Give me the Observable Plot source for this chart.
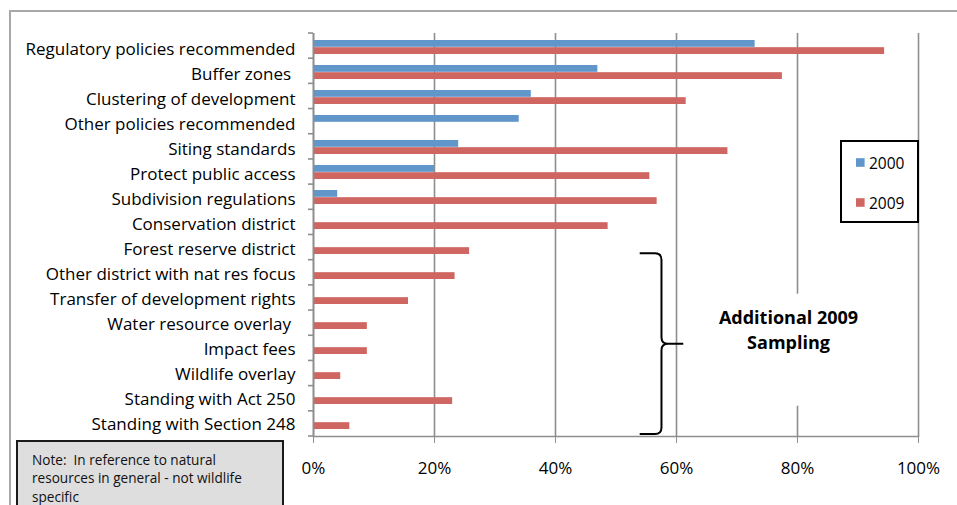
<!DOCTYPE html>
<html>
<head>
<meta charset="utf-8">
<script src="https://cdn.jsdelivr.net/npm/d3@7"></script>
<script src="https://cdn.jsdelivr.net/npm/@observablehq/plot@0.6"></script>
<style>
  body { margin: 0; background: #fff; }
  #wrap { position: relative; width: 957px; height: 505px; overflow: hidden; font-family: "Open Sans", sans-serif; background: #fff; }
  #frame { position: absolute; left: 9px; top: 10px; width: 1000px; height: 600px; border-left: 2px solid #a8a8a8; border-top: 2px solid #a8a8a8; }
  #chart { position: absolute; left: 0; top: 0; }
  #note { position: absolute; left: 16px; top: 440px; width: 268px; height: 90px; background: #dedede; border: 2px solid #1a1a1a; box-sizing: border-box; font-size: 13.6px; line-height: 18.5px; padding: 8.5px 0 0 14px; color: #111; white-space: pre; }
</style>
</head>
<body>
<div id="wrap">
  <div id="frame"></div>
  <div id="chart"></div>
  <div id="note">Note:  In reference to natural
resources in general - not wildlife
specific</div>
</div>
<script>
const categories = [
  "Regulatory policies recommended",
  "Buffer zones ",
  "Clustering of development",
  "Other policies recommended",
  "Siting standards",
  "Protect public access",
  "Subdivision regulations",
  "Conservation district",
  "Forest reserve district",
  "Other district with nat res focus",
  "Transfer of development rights",
  "Water resource overlay ",
  "Impact fees",
  "Wildlife overlay",
  "Standing with Act 250",
  "Standing with Section 248"
];
const series = ["2000", "2009"];
const values2000 = [73, 47, 36, 34, 24, 20, 4, null, null, null, null, null, null, null, null, null];
const values2009 = [94.4, 77.5, 61.6, null, 68.5, 55.6, 56.8, 48.7, 25.8, 23.4, 15.7, 8.9, 8.9, 4.5, 23.0, 6.0];
const xTicks = [0, 20, 40, 60, 80, 100];
const colors = { "2000": "#6096ca", "2009": "#cf6661" };
const bracketFrom = "Forest reserve district";
const bracketTo = "Standing with Section 248";
const annotation = ["Additional 2009", "Sampling"];

const d2000 = categories.map((c, i) => ({ category: c, value: values2000[i] })).filter(d => d.value != null);
const d2009 = categories.map((c, i) => ({ category: c, value: values2009[i] })).filter(d => d.value != null);

const W = 957, H = 505, mL = 313, mR = 39, mT = 33, mB = 69;
const padInner = 0.43;
const step = (H - mT - mB) / categories.length;
const bw = step * (1 - padInner);
const gridColor = "#8e8e8e";
const FONT = "'Open Sans', sans-serif";

const plot = Plot.plot({
  width: W, height: H,
  marginLeft: mL, marginRight: mR, marginTop: mT, marginBottom: mB,
  style: { background: "transparent", fontFamily: FONT, fontSize: "17px", color: "#000" },
  x: { domain: [0, 100], label: null },
  y: { domain: categories, paddingInner: padInner, paddingOuter: padInner / 2, label: null },
  marks: [
    Plot.gridX(xTicks, { stroke: gridColor, strokeOpacity: 1, strokeWidth: 1.6 }),
    Plot.barX(d2000, { x: "value", y: "category", fill: colors["2000"], insetBottom: bw / 2 }),
    Plot.barX(d2009, { x: "value", y: "category", fill: colors["2009"], insetTop: bw / 2 }),
    Plot.ruleX([0], { stroke: gridColor, strokeWidth: 1.6 }),
    Plot.frame({ anchor: "bottom", stroke: gridColor, strokeWidth: 1.6 }),
    Plot.axisX(xTicks, { tickFormat: d => d + "%", tickSize: 7, tickPadding: 18, stroke: gridColor, fill: "#000", fontSize: 17, label: null }),
    Plot.axisY({ tickSize: 0, tickPadding: 18, fill: "#000", fontSize: 17, dy: 1.8, label: null })
  ]
});
document.getElementById("chart").appendChild(plot);

const svg = d3.select(plot);
svg.selectAll("text").style("white-space", "pre");
const xs = plot.scale("x"), ys = plot.scale("y");
const X = v => xs.apply(v);
const Y = c => ys.apply(c);
const y0 = ys.range[0], y1 = ys.range[1];

// category boundary ticks on the left axis
const g = svg.append("g");
for (let i = 0; i <= categories.length; i++) {
  const yy = y0 + i * step;
  g.append("line").attr("x1", X(0) - 5).attr("x2", X(0)).attr("y1", yy).attr("y2", yy)
    .attr("stroke", gridColor).attr("stroke-width", 1.6);
}

// bracket
const yt = Y(bracketFrom) + bw - 1;
const yb = y1 - 2;
const ym = (yt + yb) / 2;
const xl = X(54), xv = X(57.6), xt = X(61.2);
const r = 6.5;
const p = d3.path();
p.moveTo(xl, yt); p.lineTo(xv - r, yt); p.quadraticCurveTo(xv, yt, xv, yt + r);
p.lineTo(xv, ym - r); p.quadraticCurveTo(xv, ym, xv + r, ym); p.lineTo(xt, ym);
p.moveTo(xv + r, ym); p.quadraticCurveTo(xv, ym, xv, ym + r);
p.lineTo(xv, yb - r); p.quadraticCurveTo(xv, yb, xv - r, yb); p.lineTo(xl, yb);
g.append("path").attr("d", p.toString()).attr("fill", "none").attr("stroke", "#000").attr("stroke-width", 2);

// annotation box
g.append("rect").attr("x", X(65.8)).attr("y", ym - 50).attr("width", X(91.4) - X(65.8)).attr("height", 112).attr("fill", "#fff");
annotation.forEach((t, i) => {
  g.append("text").attr("x", X(78.6)).attr("y", ym - 27 + i * 25.5)
    .attr("text-anchor", "middle").attr("dominant-baseline", "central")
    .attr("font-weight", "bold").attr("font-size", 18).attr("fill", "#000").text(t);
});

// legend
const lg = svg.append("g");
const lx1 = X(100), lx0 = lx1 - 77, ly0 = 141, ly1 = 222;
lg.append("rect").attr("x", lx0).attr("y", ly0).attr("width", lx1 - lx0).attr("height", ly1 - ly0)
  .attr("fill", "#fff").attr("stroke", "#000").attr("stroke-width", 2);
series.forEach((s, i) => {
  const cy = 162.5 + i * 40;
  lg.append("rect").attr("x", lx0 + 15).attr("y", cy - 4.3).attr("width", 8.6).attr("height", 8.6).attr("fill", colors[s]);
  lg.append("text").attr("x", lx0 + 28).attr("y", cy).attr("text-anchor", "start").attr("dominant-baseline", "central")
    .attr("font-size", 15.5).attr("fill", "#000").text(s);
});
</script>
</body>
</html>
